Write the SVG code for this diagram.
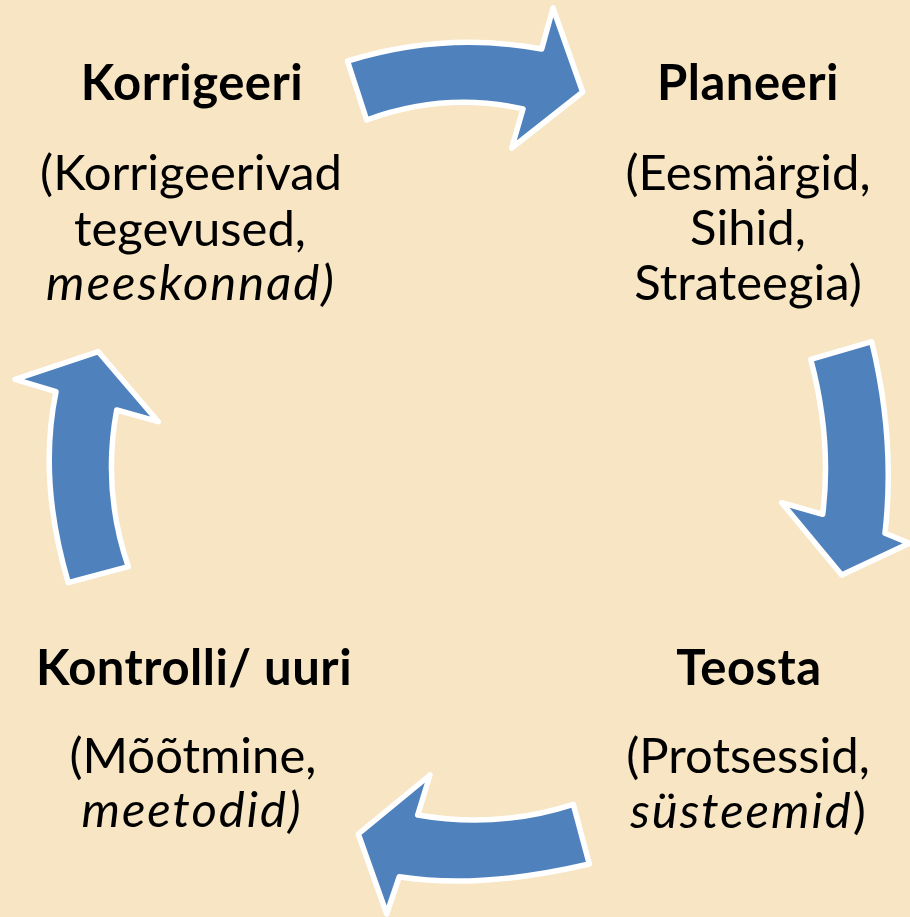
<svg xmlns="http://www.w3.org/2000/svg" width="910" height="917" viewBox="0 0 910 917">
<style>
.bg{fill:#F7E5C3}
.arrow{fill:#4F81BD;stroke:#FFFFFF;stroke-width:5.5;stroke-linejoin:round}
text{font-family:Lato,"Open Sans","Liberation Sans",sans-serif;font-size:49px;fill:#000;text-anchor:middle}
.h{font-weight:bold;letter-spacing:0.5px}
.i{font-style:italic;letter-spacing:2px}
</style>
<rect class="bg" x="0" y="0" width="910" height="917"/>
<g id="connectors">
<path id="arrow-top" class="arrow" d="M347.5 61 Q445 31 541.7 49 L553 8 L582.7 92 L511.7 148 L523 109 Q445 91.5 366.7 120 Z"/>
<path id="arrow-right" class="arrow" d="M810.7 359.3 L871.7 341.7 Q895.6 440 885 533.3 L909.3 543.3 L841.7 575 L781.7 502.7 L822.7 514.3 Q832 440 810.7 359.3 Z"/>
<path id="arrow-bottom" class="arrow" d="M573.3 804.3 L589.3 864 Q480 889.6 399.3 876.7 L386.7 914 L358.3 834 L430 775 L417.7 815 Q497 829 573.3 804.3 Z"/>
<path id="arrow-left" class="arrow" d="M68.3 582.7 L128.3 566.7 Q102 490 116.7 410 L158.3 421.7 L98.3 351.7 L15 379.3 L56 391.7 Q37.8 480 68.3 582.7 Z"/>
</g>
<g id="node-korrigeeri">
<text class="h" x="192" y="100">Korrigeeri</text>
<text x="191" y="190">(Korrigeerivad</text>
<text x="190" y="246">tegevused,</text>
<text class="i" x="191" y="300">meeskonnad)</text>
</g>
<g id="node-planeeri">
<text class="h" x="748" y="100">Planeeri</text>
<text x="748" y="190">(Eesmärgid,</text>
<text x="748" y="245">Sihid,</text>
<text x="748" y="300">Strateegia)</text>
</g>
<g id="node-teosta">
<text class="h" x="749" y="685">Teosta</text>
<text x="748" y="773">(Protsessid,</text>
<text x="748" y="828"><tspan class="i">süsteemid</tspan>)</text>
</g>
<g id="node-kontrolli">
<text class="h" x="194" y="685">Kontrolli/ uuri</text>
<text x="193" y="773">(Mõõtmine,</text>
<text class="i" x="192" y="827">meetodid)</text>
</g>
</svg>
